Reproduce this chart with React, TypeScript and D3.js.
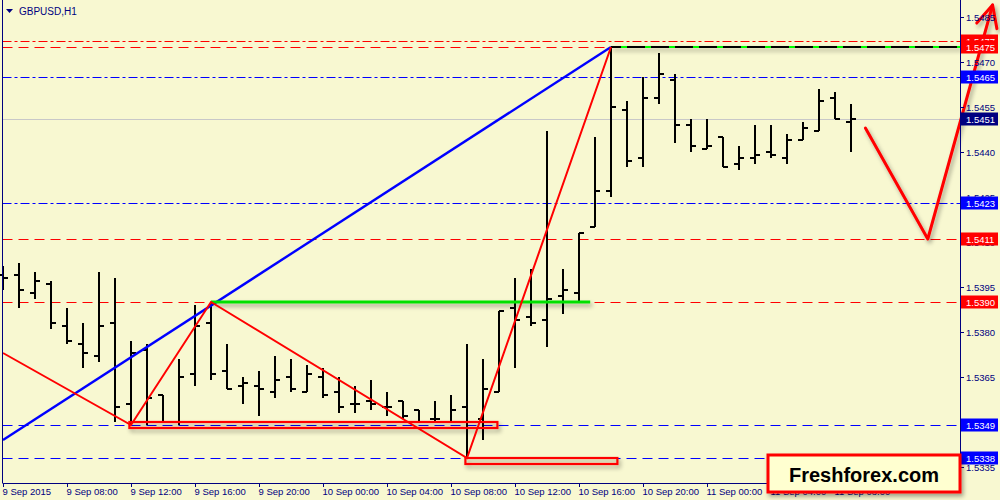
import React from 'react';
import * as d3 from 'd3';

// ---- data ----
const symbolTitle = 'GBPUSD,H1';
const firstBarHour = 4; // bar 0 = 9 Sep 2015 04:00
const opens = [1.5399,1.5399,1.5393,1.5396,1.5382,1.5376,1.5372,1.5383,1.5356,1.5374,1.5359,1.5350,1.5366,1.5383,1.5367,1.5362,1.5362,1.5360,1.5365,1.5360,1.5365,1.5360,1.5356,1.5357,1.5355,1.5357,1.5354,1.5351,1.5350,1.5355,1.5351,1.5360,1.5388,1.5385,1.5384,1.5392,1.5393,1.5415,1.5427,1.5454,1.5438,1.5458,1.5464,1.5449,1.5441,1.5445,1.5436,1.5438,1.5440,1.5438,1.5444,1.5447,1.5458,1.5450];
const highs = [1.5402,1.5403,1.5400,1.5397,1.5388,1.5383,1.5400,1.5398,1.5377,1.5376,1.5359,1.5371,1.5389,1.5390,1.5376,1.5365,1.5367,1.5372,1.5371,1.5369,1.5368,1.5365,1.5362,1.5364,1.5360,1.5357,1.5354,1.5357,1.5359,1.5376,1.5371,1.5387,1.5398,1.5401,1.5447,1.5401,1.5413,1.5445,1.5475,1.5457,1.5465,1.5473,1.5466,1.5451,1.5451,1.5445,1.5442,1.5449,1.5449,1.5446,1.5450,1.5461,1.5460,1.5456];
const lows = [1.5394,1.5388,1.5391,1.5381,1.5376,1.5368,1.5370,1.5350,1.5349,1.5349,1.5350,1.5349,1.5362,1.5364,1.5361,1.5356,1.5352,1.5358,1.5360,1.5360,1.5358,1.5353,1.5353,1.5354,1.5352,1.5351,1.5350,1.5350,1.5350,1.5338,1.5344,1.5360,1.5368,1.5382,1.5375,1.5386,1.5390,1.5415,1.5425,1.5435,1.5435,1.5456,1.5443,1.5440,1.5441,1.5435,1.5434,1.5436,1.5438,1.5436,1.5444,1.5447,1.5451,1.5440];
const closes = [1.5398,1.5394,1.5397,1.5383,1.5377,1.5373,1.5382,1.5355,1.5373,1.5358,1.5350,1.5365,1.5382,1.5366,1.5361,1.5363,1.5361,1.5364,1.5361,1.5366,1.5359,1.5355,1.5356,1.5356,1.5355,1.5352,1.5350,1.5351,1.5354,1.5350,1.5361,1.5387,1.5384,1.5383,1.5391,1.5394,1.5413,1.5427,1.5455,1.5437,1.5458,1.5466,1.5449,1.5442,1.5442,1.5435,1.5438,1.5439,1.5439,1.5444,1.5448,1.5457,1.5451,1.5451];

const priceTicks = [1.5485,1.5470,1.5455,1.5440,1.5425,1.5410,1.5395,1.5380,1.5365,1.5350,1.5335];
const timeTickBars = [0,4,8,12,16,20,24,28,32,36,40,44,48,52];
const timeTickLabels = ['9 Sep 2015','9 Sep 08:00','9 Sep 12:00','9 Sep 16:00','9 Sep 20:00','10 Sep 00:00','10 Sep 04:00','10 Sep 08:00','10 Sep 12:00','10 Sep 16:00','10 Sep 20:00','11 Sep 00:00','11 Sep 04:00','11 Sep 08:00'];

// horizontal levels: price, kind
const levelPrices = [1.5477,1.5475,1.5465,1.5451,1.5423,1.5411,1.5390,1.5349,1.5338];
const levelKinds = ['redDashDot','redDash','blueDashDot','price','blueDashDot','redDash','redDash','blueDash','blueDash'];
const levelLabelColors = ['#FF0000','#FF0000','#0000FF','#000080','#0000FF','#FF0000','#FF0000','#0000FF','#0000FF'];

// trend line (blue)
const blueLineBars = [0,38];
const blueLinePrices = [1.5344,1.5475];
// zigzag (red)
const zigzagBars = [0,8,13,29,38];
const zigzagPrices = [1.5373,1.5349,1.5390,1.5338,1.5475];
// forecast arrow (red)
const forecastBars = [53.9,57.8,61.85];
const forecastPrices = [1.5448,1.5411,1.5489];
// green resistance line
const greenBars = [13,36.7];
const greenPrice = 1.5390;
// top line
const topLineStartBar = 38;
const topLinePrice = 1.5475;
// rectangles
const rectStartBars = [7.9,28.9];
const rectEndBars = [30.9,38.4];
const rectTopPrices = [1.5350,1.5338];
const rectBottomPrices = [1.5348,1.5336];

const logoText = 'Freshforex.com';

export default function App() {
  const W = 1000, H = 500;
  const plotRight = 960, plotBottom = 483, plotLeft = 2.5;
  const x = d3.scaleLinear().domain([0, 1]).range([3, 19]);
  const y = d3.scaleLinear().domain([1.5335, 1.5485]).range([467, 17]);
  const font = '"Liberation Sans", Arial, sans-serif';
  const navy = '#000080';
  const bg = '#F8F8D1';

  const line = d3.line<[number, number]>().x(d => x(d[0])).y(d => y(d[1]));
  const dashFor = (k: string) => k.endsWith('DashDot') ? '9,3,3,3' : k.endsWith('Dash') ? '10,6' : undefined;
  const colorFor = (k: string) => k === 'price' ? '#C8C8C8' : k.startsWith('red') ? '#FF0000' : '#0000FF';

  // arrowhead
  const fx = forecastBars.map(b => x(b));
  const fy = forecastPrices.map(p => y(p));
  const tipX = fx[2], tipY = fy[2];
  const ang = Math.atan2(fy[2] - fy[1], fx[2] - fx[1]);
  const aLen = 24, aSp = 0.45;
  const w1 = [tipX - aLen * Math.cos(ang - aSp), tipY - aLen * Math.sin(ang - aSp)];
  const w2 = [tipX - aLen * Math.cos(ang + aSp), tipY - aLen * Math.sin(ang + aSp)];

  const topX0 = x(topLineStartBar);

  return (
    <div style={{ position: 'fixed', left: 0, top: 0 }}>
      <svg width={W} height={H} style={{ display: 'block', background: bg }}>
        <defs>
          <filter id="sh" filterUnits="userSpaceOnUse" x={0} y={0} width={W} height={H}>
            <feDropShadow dx="2" dy="3" stdDeviation="2" floodColor="#000" floodOpacity="0.35" />
          </filter>
          <clipPath id="plot"><rect x={plotLeft} y={0} width={plotRight - plotLeft} height={plotBottom} /></clipPath>
        </defs>
        <rect x={0} y={0} width={W} height={H} fill={bg} />

        {/* horizontal levels */}
        <g clipPath="url(#plot)">
          {levelPrices.map((p, i) => (
            <line key={'lv' + i} x1={plotLeft} x2={plotRight} y1={Math.round(y(p)) + 0.5} y2={Math.round(y(p)) + 0.5}
              stroke={colorFor(levelKinds[i])} strokeWidth={1} strokeDasharray={dashFor(levelKinds[i])} />
          ))}
        </g>

        {/* bars */}
        <g stroke="#000" strokeWidth={2} shapeRendering="crispEdges">
          {opens.map((o, i) => {
            const cx = Math.round(x(i));
            return (
              <g key={'b' + i}>
                <line x1={cx} x2={cx} y1={y(highs[i])} y2={y(lows[i])} />
                <line x1={cx - 5} x2={cx} y1={Math.round(y(o))} y2={Math.round(y(o))} />
                <line x1={cx} x2={cx + 5} y1={Math.round(y(closes[i]))} y2={Math.round(y(closes[i]))} />
              </g>
            );
          })}
        </g>

        {/* blue trend line */}
        <path d={line(blueLineBars.map((b, i) => [b, blueLinePrices[i]]) as any) || ''} fill="none" stroke="#0000FF" strokeWidth={2.4} />

        {/* green line */}
        <line x1={x(greenBars[0])} x2={x(greenBars[1])} y1={y(greenPrice)} y2={y(greenPrice)} stroke="#00E000" strokeWidth={3} filter="url(#sh)" />

        {/* top line */}
        <g filter="url(#sh)">
          <line x1={topX0} x2={plotRight} y1={y(topLinePrice)} y2={y(topLinePrice)} stroke="#000" strokeWidth={2} />
          <line x1={topX0} x2={plotRight} y1={y(topLinePrice)} y2={y(topLinePrice)} stroke="#00FF00" strokeWidth={2} strokeDasharray="6,18" strokeDashoffset={14} />
        </g>

        {/* rectangles */}
        <g filter="url(#sh)">
          {rectStartBars.map((b, i) => (
            <rect key={'r' + i} x={x(b)} y={y(rectTopPrices[i])} width={x(rectEndBars[i]) - x(b)}
              height={y(rectBottomPrices[i]) - y(rectTopPrices[i])} fill="none" stroke="#FF0000" strokeWidth={2.2} />
          ))}
        </g>

        {/* zigzag */}
        <path d={line(zigzagBars.map((b, i) => [b, zigzagPrices[i]]) as any) || ''} fill="none" stroke="#FF0000" strokeWidth={2} strokeLinejoin="miter" />

        {/* forecast arrow */}
        <g filter="url(#sh)" stroke="#FF0000" strokeWidth={3} fill="none" strokeLinecap="round" strokeLinejoin="round">
          <path d={line(forecastBars.map((b, i) => [b, forecastPrices[i]]) as any) || ''} />
          <path d={`M${w1[0]},${w1[1]}L${tipX},${tipY}L${w2[0]},${w2[1]}`} />
        </g>

        {/* frame */}
        <line x1={plotLeft} x2={plotLeft} y1={0} y2={plotBottom} stroke={navy} strokeWidth={1} />
        <line x1={plotLeft} x2={plotRight + 0.5} y1={plotBottom + 0.5} y2={plotBottom + 0.5} stroke={navy} strokeWidth={1} />
        <line x1={plotRight + 0.5} x2={plotRight + 0.5} y1={0} y2={plotBottom + 1} stroke={navy} strokeWidth={1} />

        {/* title */}
        <path d="M6,9 L13,9 L9.5,13 Z" fill={navy} />
        <text x={19} y={15} fontFamily={font} fontSize={10} fill={navy}>{symbolTitle}</text>

        {/* price axis */}
        <g fontFamily={font} fontSize={9.5} fill={navy}>
          {priceTicks.map((p, i) => (
            <g key={'pt' + i}>
              <line x1={plotRight} x2={plotRight + 4} y1={Math.round(y(p)) + 0.5} y2={Math.round(y(p)) + 0.5} stroke={navy} />
              <text x={966} y={y(p) + 3.5}>{d3.format('.4f')(p)}</text>
            </g>
          ))}
        </g>
        <g fontFamily={font} fontSize={9.5} fill="#fff">
          {levelPrices.map((p, i) => (
            <g key={'ll' + i}>
              <rect x={961} y={y(p) - 6.5} width={37} height={13} fill={levelLabelColors[i]} />
              <text x={966} y={y(p) + 3.5}>{d3.format('.4f')(p)}</text>
            </g>
          ))}
        </g>

        {/* time axis */}
        <g fontFamily={font} fontSize={9.5} fill={navy}>
          {timeTickBars.map((b, i) => (
            <g key={'tt' + i}>
              <line x1={Math.round(x(b)) + 0.5} x2={Math.round(x(b)) + 0.5} y1={plotBottom} y2={plotBottom + 4} stroke={navy} />
              <text x={x(b) - 0.5} y={495}>{timeTickLabels[i]}</text>
            </g>
          ))}
        </g>

        {/* logo */}
        <g filter="url(#sh)">
          <rect x={768} y={455} width={192} height={37} fill="#FFFFD0" stroke="#FF0000" strokeWidth={3} />
        </g>
        <text x={864} y={482} textAnchor="middle" fontFamily={font} fontWeight="bold" fontSize={20} fill="#000">{logoText}</text>
      </svg>
    </div>
  );
}
